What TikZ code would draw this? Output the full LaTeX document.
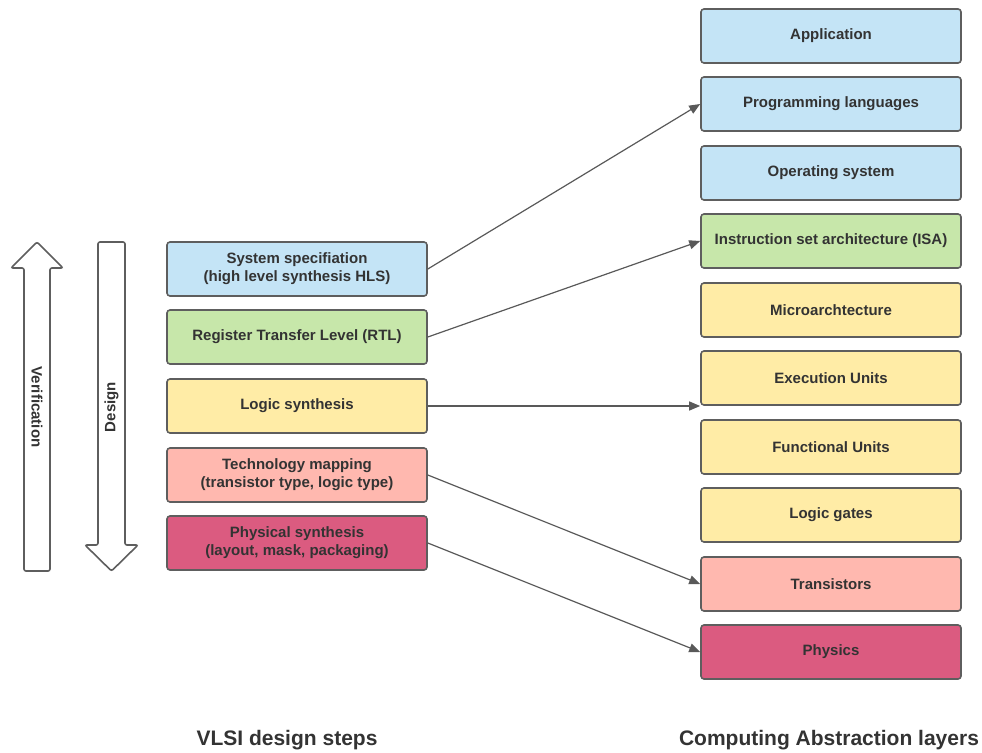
\documentclass[tikz,border=0pt]{standalone}
\usepackage{fontspec}
\setmainfont{Liberation Sans}
\usetikzlibrary{arrows.meta}
\definecolor{cblue}{RGB}{196,228,246}
\definecolor{cgreen}{RGB}{199,231,170}
\definecolor{cyellow}{RGB}{255,236,166}
\definecolor{csalmon}{RGB}{255,184,175}
\definecolor{cpink}{RGB}{219,91,128}
\definecolor{cborder}{RGB}{94,94,94}
\definecolor{ctext}{RGB}{51,51,51}
\definecolor{carrow}{RGB}{89,89,89}
\begin{document}
\begin{tikzpicture}[x=1pt,y=-1pt,
  box/.style={draw=cborder, line width=1.6pt, rounded corners=3pt, minimum width=260pt, minimum height=54pt, inner sep=0pt, align=center, font=\fontsize{15}{18}\selectfont\bfseries, text=ctext},
  conn/.style={draw=carrow, line width=1.2pt, -{Triangle[length=11pt,width=9pt]}},
  bigarrow/.style={draw=cborder, line width=1.6pt, fill=white, rounded corners=2pt},
  vlabel/.style={font=\fontsize{15}{18}\selectfont\bfseries, text=ctext},
  caption/.style={font=\fontsize{21}{25}\selectfont\bfseries, text=ctext}]
\useasboundingbox (0,0) rectangle (982,752);
% right column
\node[box, fill=cblue]   (app)  at (831,36)  {Application};
\node[box, fill=cblue]   (prog) at (831,104) {Programming languages};
\node[box, fill=cblue]   (os)   at (831,173) {Operating system};
\node[box, fill=cgreen]  (isa)  at (831,241) {Instruction set architecture (ISA)};
\node[box, fill=cyellow] (march) at (831,310) {Microarchtecture};
\node[box, fill=cyellow] (exe)  at (831,378) {Execution Units};
\node[box, fill=cyellow] (fu)   at (831,447) {Functional Units};
\node[box, fill=cyellow] (lg)   at (831,515) {Logic gates};
\node[box, fill=csalmon] (tr)   at (831,584) {Transistors};
\node[box, fill=cpink]   (phy)  at (831,652) {Physics};
% left column
\node[box, fill=cblue]   (sys)  at (297,269) {System specifiation\\(high level synthesis HLS)};
\node[box, fill=cgreen]  (rtl)  at (297,337) {Register Transfer Level (RTL)};
\node[box, fill=cyellow] (ls)   at (297,406) {Logic synthesis};
\node[box, fill=csalmon] (tm)   at (297,475) {Technology mapping\\(transistor type, logic type)};
\node[box, fill=cpink]   (ps)   at (297,543) {Physical synthesis\\(layout, mask, packaging)};
% connectors
\draw[conn] (sys.east) -- (prog.west);
\draw[conn] (rtl.east) -- (isa.west);
\draw[conn] (ls.east) -- (exe.west |- ls.east);
\draw[conn] (tm.east) -- (tr.west);
\draw[conn] (ps.east) -- (phy.west);
% big arrows
\draw[bigarrow] (24,571) -- (24,268) -- (11,268) -- (37,242) -- (63,268) -- (50,268) -- (50,571) -- cycle;
\draw[bigarrow] (98,242) -- (125,242) -- (125,545) -- (138,545) -- (111.5,571) -- (85,545) -- (98,545) -- cycle;
\node[rotate=-90, vlabel] (ver) at (37,407) {Verification};
\node[rotate=90, vlabel] (des) at (111.5,407) {Design};
% captions
\node[caption] (c1) at (287,740) {VLSI design steps};
\node[caption] (c2) at (829,740) {Computing Abstraction layers};
\end{tikzpicture}
\end{document}
